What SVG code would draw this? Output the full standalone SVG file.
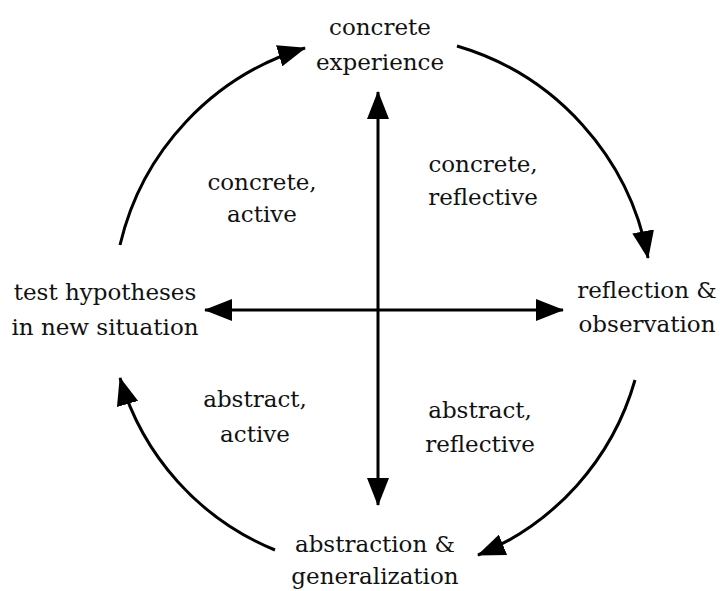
<svg xmlns="http://www.w3.org/2000/svg" width="720" height="591" viewBox="0 0 720 591">
  <style>
    .lbl { font-family: "DejaVu Serif", "Liberation Serif", serif; font-size: 23px; fill: #111; text-anchor: middle; }
    .ln { fill: none; stroke: #000; stroke-width: 3; }
  </style>
  <defs>
    <marker id="head" viewBox="0 0 28 22" refX="27" refY="11" markerWidth="28" markerHeight="22" markerUnits="userSpaceOnUse" orient="auto-start-reverse">
      <path d="M0,0 L28,11 L0,22 z" fill="#000"/>
    </marker>
  </defs>
  <rect width="720" height="591" fill="#fff"/>

  <g id="connectors">
    <line class="ln" x1="378" y1="92" x2="378" y2="505" marker-start="url(#head)" marker-end="url(#head)"/>
    <line class="ln" x1="205" y1="310" x2="563" y2="310" marker-start="url(#head)" marker-end="url(#head)"/>
    <path class="ln" d="M 457 46 A 272 272 0 0 1 648 258" marker-end="url(#head)"/>
    <path class="ln" d="M 635 380 A 268 268 0 0 1 478 555" marker-end="url(#head)"/>
    <path class="ln" d="M 275 550 A 266 266 0 0 1 120 378" marker-end="url(#head)"/>
    <path class="ln" d="M 120 245 A 270 270 0 0 1 305 48" marker-end="url(#head)"/>
  </g>

  <g id="concrete-experience">
    <text class="lbl" x="380" y="35">concrete</text>
    <text class="lbl" x="380" y="70">experience</text>
  </g>
  <g id="reflection-observation">
    <text class="lbl" x="647" y="298">reflection &amp;</text>
    <text class="lbl" x="647" y="332">observation</text>
  </g>
  <g id="abstraction-generalization">
    <text class="lbl" x="375" y="552">abstraction &amp;</text>
    <text class="lbl" x="375" y="584">generalization</text>
  </g>
  <g id="test-hypotheses">
    <text class="lbl" x="105" y="300">test hypotheses</text>
    <text class="lbl" x="105" y="335">in new situation</text>
  </g>

  <g id="quadrant-concrete-active">
    <text class="lbl" x="262" y="190">concrete,</text>
    <text class="lbl" x="262" y="222">active</text>
  </g>
  <g id="quadrant-concrete-reflective">
    <text class="lbl" x="483" y="172">concrete,</text>
    <text class="lbl" x="483" y="205">reflective</text>
  </g>
  <g id="quadrant-abstract-active">
    <text class="lbl" x="255" y="407">abstract,</text>
    <text class="lbl" x="255" y="442">active</text>
  </g>
  <g id="quadrant-abstract-reflective">
    <text class="lbl" x="480" y="418">abstract,</text>
    <text class="lbl" x="480" y="452">reflective</text>
  </g>
</svg>
